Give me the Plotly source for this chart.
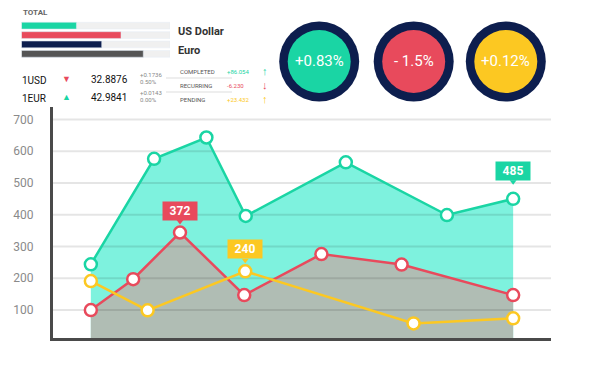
import plotly.graph_objects as go

W, H = 591, 372

# ---------------- data ----------------
y_ticks = [100, 200, 300, 400, 500, 600, 700]

green_x = [7.6, 20.3, 30.8, 38.7, 58.8, 79.1, 92.4]
green_y = [244, 576, 643, 396, 565, 399, 450]
red_x = [7.6, 16.1, 25.5, 38.4, 53.9, 70.0, 92.4]
red_y = [100, 197, 344, 147, 276, 243, 147]
yellow_x = [7.6, 19.0, 38.6, 72.4, 92.4]
yellow_y = [191, 99, 222, 58, 74]

callout_texts = ["372", "240", "485"]
callout_series = ["red", "yellow", "green"]
callout_index = [2, 2, 6]

bar_labels = ["a", "b", "c", "d"]
bar_values = [37, 67, 54, 82]
bar_max = 100

circle_labels = ["+0.83%", "- 1.5%", "+0.12%"]

rate_names = ["1USD", "1EUR"]
rate_values = ["32.8876", "42.9841"]
rate_changes = ["+0.1736", "+0.0143"]
rate_pcts = ["0.50%", "0.00%"]
rate_dirs = ["down", "up"]

status_labels = ["COMPLETED", "RECURRING", "PENDING"]
status_values = ["+86.054", "-6.230", "+23.432"]
status_arrows = ["↑", "↓", "↑"]

# ---------------- styles ----------------
GREEN = "#1ad5a4"
RED = "#e84a5c"
YELLOW = "#fcc822"
NAVY = "#0d1e4e"
DGRAY = "#4a4a4a"
FILL_GREEN = "#7ef2de"
FILL_GRAY = "#b0bdb4"
COND = "Roboto, Liberation Sans, sans-serif"

series = {
    "green": (green_x, green_y, GREEN),
    "red": (red_x, red_y, RED),
    "yellow": (yellow_x, yellow_y, YELLOW),
}
# pixel -> data conversion for the main y axis (used for callout pointers)
Y_RANGE = [12, 739]
Y_PX = 338 - 107
def dy(pix):
    return pix * (Y_RANGE[1] - Y_RANGE[0]) / Y_PX

def px(x):
    return x / W

def py(y):
    return 1 - y / H

fig = go.Figure()

# fills
fig.add_trace(go.Scatter(x=green_x, y=green_y, mode="none", fill="tozeroy",
                         fillcolor=FILL_GREEN, hoverinfo="skip", showlegend=False))
fig.add_trace(go.Scatter(x=red_x, y=red_y, mode="none", fill="tozeroy",
                         fillcolor=FILL_GRAY, hoverinfo="skip", showlegend=False))

# grid lines above fills
gx, gy = [], []
for t in y_ticks:
    gx += [0, 100, None]
    gy += [t, t, None]
fig.add_trace(go.Scatter(x=gx, y=gy, mode="lines", line=dict(color="rgba(0,0,0,0.10)", width=2),
                         hoverinfo="skip", showlegend=False))

for name in ["green", "red", "yellow"]:
    xs, ys, c = series[name]
    fig.add_trace(go.Scatter(x=xs, y=ys, mode="lines+markers",
                             line=dict(color=c, width=2.5),
                             marker=dict(size=12, color="white", line=dict(color=c, width=2.5)),
                             showlegend=False))

# callouts
ptr_x, ptr_y, ptr_c = [], [], []
for txt_, s, i in zip(callout_texts, callout_series, callout_index):
    xs, ys, c = series[s]
    shift = 17 if s == "green" else 11
    fig.add_annotation(x=xs[i], y=ys[i], xref="x", yref="y", text=f"<b>{txt_}</b>", showarrow=False,
                       xanchor="center", yanchor="bottom", yshift=shift + 1, bgcolor=c, borderpad=2,
                       width=30, font=dict(family=COND, size=12, color="white"))
    ptr_x.append(xs[i])
    ptr_y.append(ys[i] + dy(shift))
    ptr_c.append(c)
fig.add_trace(go.Scatter(x=ptr_x, y=ptr_y, mode="markers",
                         marker=dict(symbol="triangle-down", size=6, color=ptr_c),
                         hoverinfo="skip", showlegend=False))

# top bars
fig.add_trace(go.Bar(y=bar_labels, x=[bar_max] * len(bar_values), orientation="h",
                     marker=dict(color="#f0f0f0"), xaxis="x2", yaxis="y2",
                     width=0.72, hoverinfo="skip", showlegend=False))
fig.add_trace(go.Bar(y=bar_labels, x=bar_values, orientation="h",
                     marker=dict(color=[GREEN, RED, NAVY, "#555555"]), xaxis="x2", yaxis="y2",
                     width=0.72, showlegend=False))

# circles
circle_fill = [GREEN, RED, YELLOW]
centers = [319.2, 413.7, 505.8]
cy = 61.5
for cx, col, lab in zip(centers, circle_fill, circle_labels):
    fig.add_shape(type="circle", xref="paper", yref="paper",
                  x0=px(cx - 40), x1=px(cx + 40), y0=py(cy + 40), y1=py(cy - 40),
                  fillcolor=NAVY, line=dict(width=0))
    fig.add_shape(type="circle", xref="paper", yref="paper",
                  x0=px(cx - 31.5), x1=px(cx + 31.5), y0=py(cy + 31.5), y1=py(cy - 31.5),
                  fillcolor=col, line=dict(width=0))
    fig.add_annotation(x=px(cx), y=py(cy), xref="paper", yref="paper", text=lab,
                       xanchor="center", yanchor="middle",
                       showarrow=False, font=dict(family=COND, size=15, color="white"))

def txt(x, y, t, size, color, bold=False, xanchor="left"):
    fig.add_annotation(x=px(x), y=py(y), xref="paper", yref="paper",
                       text=f"<b>{t}</b>" if bold else t, showarrow=False,
                       xanchor=xanchor, yanchor="middle",
                       font=dict(family=COND, size=size, color=color))

txt(21, 13, "TOTAL", 8, "#666666", bold=True)
txt(176, 31, "US Dollar", 11, "#333333", bold=True)
txt(176, 51, "Euro", 11, "#333333", bold=True)

row_y = [80, 98]
for ry, n, v, ch, pc, d in zip(row_y, rate_names, rate_values, rate_changes, rate_pcts, rate_dirs):
    txt(20, ry, n, 10, "#111111")
    txt(66, ry - 1, "▼" if d == "down" else "▲", 9, RED if d == "down" else GREEN, xanchor="center")
    txt(89, ry - 1, v, 10, "#111111")
    txt(138, ry - 6, ch, 6, "#888888")
    txt(138, ry + 1, pc, 6, "#888888")

status_y = [71, 85, 99]
status_cols = [GREEN, RED, YELLOW]
for sy, l, v, a, c in zip(status_y, status_labels, status_values, status_arrows, status_cols):
    txt(178, sy, l, 6, "#555555")
    txt(225, sy, v, 6, c)
    txt(265, sy, f"<b>{a}</b>", 11, c, xanchor="center")
for ly in [78, 92]:
    fig.add_shape(type="line", xref="paper", yref="paper", x0=px(166), x1=px(232),
                  y0=py(ly), y1=py(ly), line=dict(color="#dddddd", width=1))

fig.update_layout(
    width=W, height=H, margin=dict(l=0, r=0, t=0, b=0),
    paper_bgcolor="white", plot_bgcolor="white",
    barmode="overlay",
    xaxis=dict(domain=[px(53), px(551)], range=[0, 100], showgrid=False, zeroline=False,
               showticklabels=False, showline=True, linecolor=DGRAY, linewidth=3),
    yaxis=dict(domain=[py(338), py(107)], range=Y_RANGE, showgrid=False, zeroline=False,
               tickvals=y_ticks, showline=True, linecolor=DGRAY, linewidth=3,
               ticks="", ticklabelstandoff=14,
               tickfont=dict(family=COND, size=12, color="#8a8a8a")),
    xaxis2=dict(domain=[px(21.5), px(170)], range=[0, bar_max], visible=False, anchor="y2"),
    yaxis2=dict(domain=[py(58.5), py(21)], visible=False, anchor="x2",
                categoryorder="array", categoryarray=bar_labels[::-1]),
)

fig.write_html("out.html", config={"displayModeBar": False},
               post_script="document.body.style.margin='0';")
